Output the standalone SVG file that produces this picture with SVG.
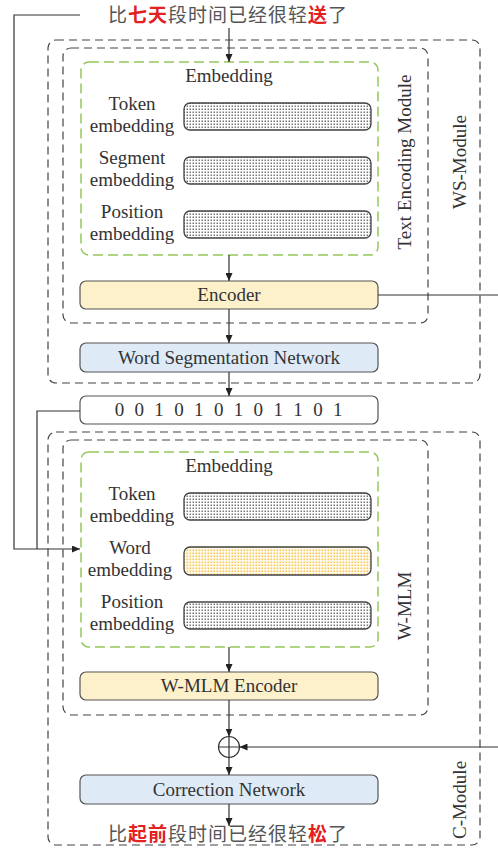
<svg xmlns="http://www.w3.org/2000/svg" width="498" height="850" viewBox="0 0 498 850">
  <defs>
    <style>
      .lbl { font-family: "Liberation Serif", "Times New Roman", serif; font-size: 19px; fill: #333; }
      .mid { text-anchor: middle; }
      .cjk { font-family: "Noto Sans CJK SC", "Noto Sans", sans-serif; font-size: 19px; fill: #555; letter-spacing: 1px; }
      .red { fill: #e3211f; font-weight: bold; }
      .module { fill: none; stroke: #444; stroke-width: 1.2; stroke-dasharray: 8 5; }
      .embed { fill: none; stroke: #95c85a; stroke-width: 1.5; stroke-dasharray: 10 5; }
      .bar { stroke: #444; stroke-width: 1.3; }
      .enc { fill: #fcf1cb; stroke: #555; stroke-width: 1.2; }
      .net { fill: #deebf7; stroke: #555; stroke-width: 1.2; }
      .plain { fill: #fff; stroke: #555; stroke-width: 1.2; }
      .wire { fill: none; stroke: #333; stroke-width: 1.2; }
    </style>
    <pattern id="dotGray" width="3" height="3" patternUnits="userSpaceOnUse">
      <rect width="3" height="3" fill="#fff"/>
      <rect x="0.5" y="0.5" width="1.5" height="1.5" fill="#777"/>
    </pattern>
    <pattern id="dotGold" width="3" height="3" patternUnits="userSpaceOnUse">
      <rect width="3" height="3" fill="#fffcf0"/>
      <rect x="0.5" y="0.5" width="1.6" height="1.6" fill="#f6c654"/>
    </pattern>
    <marker id="arrow" viewBox="0 0 8 7" refX="8" refY="3.5" markerWidth="8" markerHeight="7" markerUnits="userSpaceOnUse" orient="auto">
      <path d="M0,0 L8,3.5 L0,7 z" fill="#222"/>
    </marker>
  </defs>

  <!-- input sentence -->
  <g id="input-text">
    <text class="cjk" x="108" y="22">比<tspan class="red">七天</tspan>段时间已经很轻<tspan class="red">送</tspan>了</text>
  </g>

  <!-- WS-Module -->
  <g id="ws-module">
    <rect class="module" x="48" y="40" width="432" height="343" rx="8"/>
    <text class="lbl mid" transform="translate(466,162) rotate(-90)">WS-Module</text>
  </g>

  <g id="text-encoding-module">
    <rect class="module" x="63" y="48" width="365" height="275" rx="8"/>
    <text class="lbl mid" transform="translate(411,162) rotate(-90)">Text Encoding Module</text>
  </g>

  <g id="embedding-top">
    <rect class="embed" x="81" y="62" width="297" height="193" rx="8"/>
    <text class="lbl mid" x="229" y="82">Embedding</text>
    <text class="lbl mid" x="132" y="110">Token</text>
    <text class="lbl mid" x="132" y="132">embedding</text>
    <rect class="bar" x="184" y="103" width="187" height="27" rx="6" fill="url(#dotGray)"/>
    <text class="lbl mid" x="132" y="164">Segment</text>
    <text class="lbl mid" x="132" y="186">embedding</text>
    <rect class="bar" x="184" y="157" width="187" height="27" rx="6" fill="url(#dotGray)"/>
    <text class="lbl mid" x="132" y="218">Position</text>
    <text class="lbl mid" x="132" y="240">embedding</text>
    <rect class="bar" x="184" y="211" width="187" height="27" rx="6" fill="url(#dotGray)"/>
  </g>

  <g id="encoder">
    <rect class="enc" x="80" y="281" width="298" height="28" rx="6"/>
    <text class="lbl mid" x="229" y="301">Encoder</text>
  </g>

  <g id="word-segmentation-network">
    <rect class="net" x="80" y="343" width="298" height="29" rx="6"/>
    <text class="lbl mid" x="229" y="364">Word Segmentation Network</text>
  </g>

  <g id="segmentation-tags">
    <rect class="plain" x="80" y="396" width="298" height="28" rx="6"/>
    <text class="lbl mid" x="230" y="416" style="letter-spacing:2.8px">0 0 1 0 1 0 1 0 1 1 0 1</text>
  </g>

  <!-- C-Module -->
  <g id="c-module">
    <rect class="module" x="48" y="432" width="432" height="413" rx="8"/>
    <text class="lbl mid" transform="translate(466,800) rotate(-90)">C-Module</text>
  </g>

  <g id="w-mlm">
    <rect class="module" x="63" y="440" width="365" height="275" rx="8"/>
    <text class="lbl mid" transform="translate(411,606) rotate(-90)">W-MLM</text>
  </g>

  <g id="embedding-bottom">
    <rect class="embed" x="81" y="452" width="297" height="195" rx="8"/>
    <text class="lbl mid" x="229" y="472">Embedding</text>
    <text class="lbl mid" x="132" y="500">Token</text>
    <text class="lbl mid" x="132" y="522">embedding</text>
    <rect class="bar" x="184" y="493" width="187" height="27" rx="6" fill="url(#dotGray)"/>
    <text class="lbl mid" x="130" y="554">Word</text>
    <text class="lbl mid" x="130" y="576">embedding</text>
    <rect class="bar" x="184" y="547" width="187" height="28" rx="6" fill="url(#dotGold)"/>
    <text class="lbl mid" x="132" y="608">Position</text>
    <text class="lbl mid" x="132" y="630">embedding</text>
    <rect class="bar" x="184" y="602" width="187" height="27" rx="6" fill="url(#dotGray)"/>
  </g>

  <g id="w-mlm-encoder">
    <rect class="enc" x="80" y="672" width="298" height="28" rx="6"/>
    <text class="lbl mid" x="229" y="692">W-MLM Encoder</text>
  </g>

  <g id="add">
    <circle cx="229" cy="747" r="10.5" fill="#fff" stroke="#333" stroke-width="1.2"/>
    <path d="M218.5,747 H239.5 M229,736.5 V757.5" stroke="#333" stroke-width="1.2"/>
  </g>

  <g id="correction-network">
    <rect class="net" x="80" y="775" width="298" height="29" rx="6"/>
    <text class="lbl mid" x="229" y="796">Correction Network</text>
  </g>

  <g id="output-text">
    <text class="cjk" x="108" y="841">比<tspan class="red">起前</tspan>段时间已经很轻<tspan class="red">松</tspan>了</text>
  </g>

  <!-- connectors -->
  <g id="connectors">
    <path class="wire" d="M229,28 V62" marker-end="url(#arrow)"/>
    <path class="wire" d="M229,255 V281" marker-end="url(#arrow)"/>
    <path class="wire" d="M229,309 V343" marker-end="url(#arrow)"/>
    <path class="wire" d="M229,372 V396" marker-end="url(#arrow)"/>
    <path class="wire" d="M378,295 H498"/>
    <path class="wire" d="M80,15 H14 V549 H80" marker-end="url(#arrow)"/>
    <path class="wire" d="M80,411 H37 V549"/>
    <path class="wire" d="M229,647 V672" marker-end="url(#arrow)"/>
    <path class="wire" d="M229,700 V736.5" marker-end="url(#arrow)"/>
    <path class="wire" d="M498,747 H239.5" marker-end="url(#arrow)"/>
    <path class="wire" d="M229,757.5 V775" marker-end="url(#arrow)"/>
    <path class="wire" d="M229,804 V826" marker-end="url(#arrow)"/>
  </g>
</svg>
